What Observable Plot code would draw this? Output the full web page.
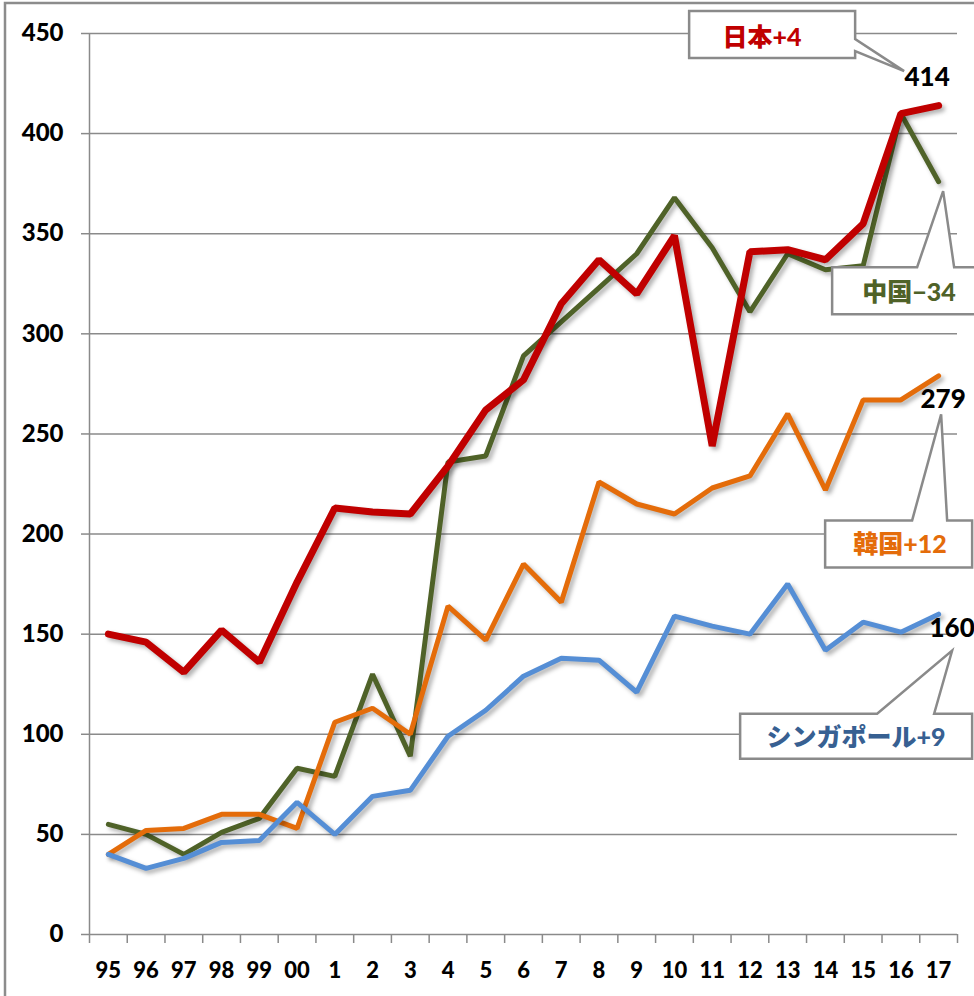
<!DOCTYPE html>
<html><head><meta charset="utf-8">
<script src="https://cdn.jsdelivr.net/npm/d3@7"></script>
<script src="https://cdn.jsdelivr.net/npm/@observablehq/plot@0.6"></script>
<style>
  html,body{margin:0;padding:0;background:#fff;}
  #chart svg{display:block;font-family:Lato,"Noto Sans CJK JP",sans-serif;}
  #chart g[aria-label="line"]{filter:drop-shadow(3px 3px 2px rgba(0,0,0,0.30));}
</style>
</head><body><div id="chart"></div>
<script>
const years = ["95","96","97","98","99","00","1","2","3","4","5","6","7","8","9","10","11","12","13","14","15","16","17"];
const japan     = [150,146,131,152,136,176,213,211,210,234,262,277,315,337,320,349,244,341,342,337,355,410,414];
const china     = [55,50,40,51,58,83,79,130,89,236,239,289,306,323,340,368,343,311,340,332,334,410,376];
const korea     = [40,52,53,60,60,53,106,113,100,164,147,185,166,226,215,210,223,229,260,222,267,267,279];
const singapore = [40,33,38,46,47,66,50,69,72,99,112,129,138,137,121,159,154,150,175,142,156,151,160];
const seriesNames  = ["日本","中国","韓国","シンガポール"];
const calloutTexts = ["日本+4","中国−34","韓国+12","シンガポール+9"];
const yTicks = [0,50,100,150,200,250,300,350,400,450];

const idx = years.map((_, i) => i);
const bounds = d3.range(years.length + 1).map(i => i - 0.5);
const last = years.length - 1;

const colors = {"日本":"#c00000","中国":"#4f6228","韓国":"#e46c0a","シンガポール":"#558ed5"};
const textColors = {"日本":"#c00000","中国":"#4f6228","韓国":"#e46c0a","シンガポール":"#376092"};
const gray = "#8a8a8a";

const valueLabels = [
  {name:"日本", v: japan[last], dx:-11, dy:-28},
  {name:"韓国", v: korea[last], dx:5, dy:24},
  {name:"シンガポール", v: singapore[last], dx:14, dy:14}
];
const callouts = [
  {name:"日本", v: japan[last], text: calloutTexts[0], tx:-176, ty:-68,
   box:{l:-249,r:-83,t:-94,b:-47}, wedge:{side:"right",a:-66,b:-54}, tip:{x:-34,y:-34}},
  {name:"中国", v: china[last], text: calloutTexts[1], tx:-29, ty:111,
   box:{l:-106,r:60,t:86,b:133}, wedge:{side:"top",a:-21,b:16}, tip:{x:5,y:10}},
  {name:"韓国", v: korea[last], text: calloutTexts[2], tx:-38, ty:169,
   box:{l:-113,r:34,t:145,b:192}, wedge:{side:"top",a:-26,b:9}, tip:{x:3,y:39}},
  {name:"シンガポール", v: singapore[last], text: calloutTexts[3], tx:-82, ty:124,
   box:{l:-198,r:34,t:100,b:145}, wedge:{side:"top",a:-61,b:-4}, tip:{x:14,y:37}}
];

const lineMark = (vals, name, w) => Plot.lineY(vals, {x: (d, i) => i, y: d => d, stroke: colors[name], strokeWidth: w, strokeLinejoin: "miter", strokeLinecap: "round"});

const plot = Plot.plot({
  width: 974, height: 996,
  marginTop: 33, marginBottom: 62, marginLeft: 89, marginRight: 17,
  x: {domain: [-0.5, years.length - 0.5], axis: null},
  y: {domain: [0, 450], axis: null},
  marks: [
    Plot.ruleY(yTicks, {stroke: gray, strokeWidth: 1.5}),
    Plot.ruleX([-0.5], {stroke: gray, strokeWidth: 1.5}),
    Plot.axisY({ticks: yTicks, tickSize: 8, stroke: gray, strokeWidth: 1.5, label: null, tickFormat: () => ""}),
    Plot.axisX({ticks: bounds, tickSize: 9, stroke: gray, strokeWidth: 1.5, label: null, tickFormat: () => ""}),
    lineMark(china, "中国", 5),
    lineMark(japan, "日本", 7),
    lineMark(korea, "韓国", 5),
    lineMark(singapore, "シンガポール", 5),
    Plot.text(callouts, {x: () => last, y: "v", text: "text",
      fill: d => textColors[d.name], fontSize: 25, fontWeight: 900, textAnchor: "middle"}),
    Plot.text(valueLabels, {x: () => last, y: "v", text: d => String(d.v),
      fill: "#000", fontSize: 26, fontWeight: 900, textAnchor: "middle"}),
    // tick labels
    Plot.text(yTicks, {x: () => -0.5, y: d => d, text: d => String(d), dx: -26, textAnchor: "end",
      fill: "#000", fontSize: 24, fontWeight: 900}),
    Plot.text(idx, {x: d => d, y: () => 0, text: i => years[i], dy: 36, textAnchor: "middle",
      fill: "#000", fontSize: 22, fontWeight: 900})
  ]
});

document.getElementById("chart").appendChild(plot);
const svg = d3.select(plot);
const sx = plot.scale("x"), sy = plot.scale("y");

// per-datum pixel offsets for the annotation texts
const textGroups = svg.selectAll('g[aria-label="text"]').nodes();
[[textGroups[0], callouts, d => [d.tx, d.ty]], [textGroups[1], valueLabels, d => [d.dx, d.dy]]].forEach(([g, data, off]) => {
  if (!g) return;
  d3.select(g).attr("transform", null);
  d3.select(g).selectAll("text").each(function(_, i) {
    const d = data[i];
    const [ox, oy] = off(d);
    d3.select(this).attr("x", sx.apply(last) + ox).attr("y", sy.apply(d.v) + oy)
      .attr("transform", null).attr("dy", "0.35em");
  });
});

// callout boxes (beneath texts)
const boxLayer = svg.insert("g", 'g[aria-label="text"]');
callouts.forEach(c => {
  const ax = sx.apply(last), ay = sy.apply(c.v);
  const L = ax + c.box.l, R = ax + c.box.r, T = ay + c.box.t, B = ay + c.box.b;
  const tx = ax + c.tip.x, ty = ay + c.tip.y;
  let p;
  if (c.wedge.side === "right") {
    p = `M${L},${T}H${R}V${ay + c.wedge.a}L${tx},${ty}L${R},${ay + c.wedge.b}V${B}H${L}Z`;
  } else {
    p = `M${L},${T}H${ax + c.wedge.a}L${tx},${ty}L${ax + c.wedge.b},${T}H${R}V${B}H${L}Z`;
  }
  boxLayer.append("path").attr("d", p).attr("fill", "#fff").attr("stroke", gray).attr("stroke-width", 2.5).attr("stroke-linejoin", "miter");
});

// outer chart border
svg.append("rect").attr("x", 5).attr("y", 3).attr("width", 1000).attr("height", 1000)
  .attr("fill", "none").attr("stroke", "#8c8c8c").attr("stroke-width", 2.5);
</script>
</body></html>
